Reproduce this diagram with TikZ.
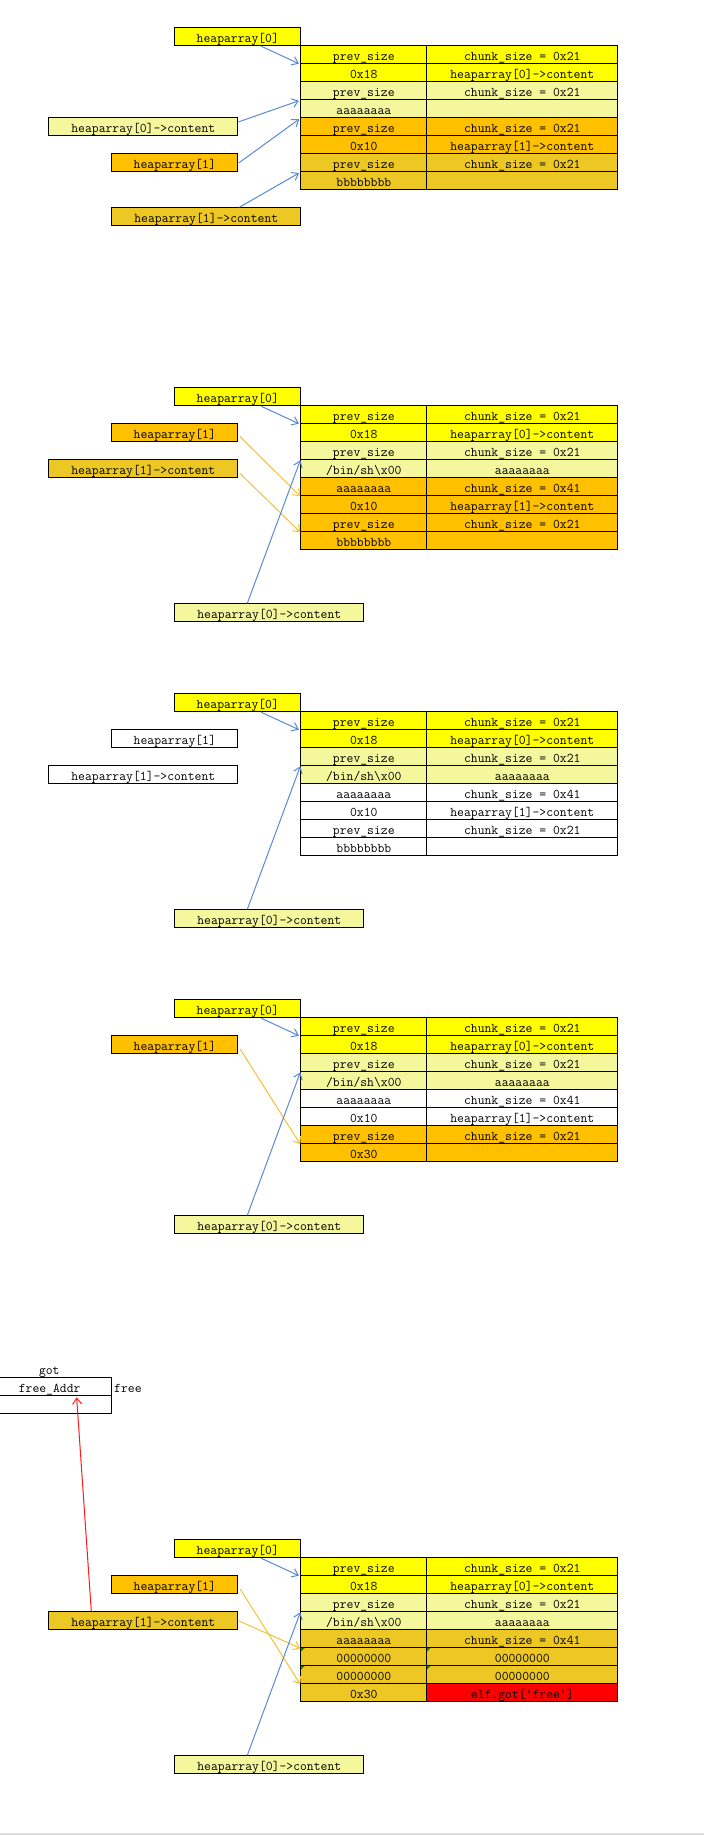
\documentclass[tikz,border=0pt]{standalone}
\usepackage{fontspec}
\usetikzlibrary{arrows.meta}
\definecolor{cY}{HTML}{FFFF00}
\definecolor{cL}{HTML}{F5F79D}
\definecolor{cO}{HTML}{FFC000}
\definecolor{cG}{HTML}{EDC825}
\definecolor{cRed}{HTML}{FF0000}
\definecolor{arrB}{HTML}{5A8AD6}
\definecolor{arrO}{HTML}{F7C136}
\definecolor{arrR}{HTML}{FF1A1A}
\definecolor{cGreen}{HTML}{1E7A1E}
\definecolor{barGrey}{HTML}{DDDDDD}
\newcommand\chunkrow[7]{%
  \node[box,fill=#4,minimum width=126pt] (#1r#2a) at (300.3,{#3+18*(#2-1)}) {#6};
  \node[box,fill=#5,minimum width=191pt] (#1r#2b) at (426.3,{#3+18*(#2-1)}) {#7};}
\begin{document}
\begin{tikzpicture}[x=1pt,y=-1pt,
  every node/.style={font=\fontsize{13.3}{15}\selectfont\ttfamily},
  box/.style={draw=black,line width=1pt,rectangle,inner sep=0pt,minimum height=18pt,
    text height=12pt,text depth=1pt,anchor=north west},
  barrow/.style={draw=arrB,line width=1pt,-{Straight Barb[length=6pt,width=9pt]}},
  oarrow/.style={draw=arrO,line width=1pt,-{Straight Barb[length=6pt,width=9pt]}},
  rarrow/.style={draw=arrR,line width=1pt,-{Straight Barb[length=6pt,width=9pt]}}]
\useasboundingbox (0,0) rectangle (704,1835);
\fill[white] (0,0) rectangle (704,1835);

% ---------------- Panel 1 ----------------
\chunkrow{p1}{1}{45.3}{cY}{cY}{prev\_size}{chunk\_size = 0x21}
\chunkrow{p1}{2}{45.3}{cY}{cY}{0x18}{heaparray[0]->content}
\chunkrow{p1}{3}{45.3}{cL}{cL}{prev\_size}{chunk\_size = 0x21}
\chunkrow{p1}{4}{45.3}{cL}{cL}{aaaaaaaa}{}
\chunkrow{p1}{5}{45.3}{cO}{cO}{prev\_size}{chunk\_size = 0x21}
\chunkrow{p1}{6}{45.3}{cO}{cO}{0x10}{heaparray[1]->content}
\chunkrow{p1}{7}{45.3}{cG}{cG}{prev\_size}{chunk\_size = 0x21}
\chunkrow{p1}{8}{45.3}{cG}{cG}{bbbbbbbb}{}
\node[box,fill=cY,minimum width=126pt] (p1h0) at (174.3,27.3) {heaparray[0]};
\node[box,fill=cL,minimum width=189pt] (p1hc0) at (48.3,117.3) {heaparray[0]->content};
\node[box,fill=cO,minimum width=126pt] (p1h1) at (111.3,153.3) {heaparray[1]};
\node[box,fill=cG,minimum width=189pt] (p1hc1) at (111.3,207.3) {heaparray[1]->content};
\draw[barrow,shorten >=1.5pt] ([xshift=-40pt]p1h0.south east) -- (p1r1a.south west);
\draw[barrow,shorten >=1.5pt] ([yshift=-4.7pt]p1hc0.north east) -- (p1r3a.south west);
\draw[barrow,shorten >=1.5pt] ([xshift=0.7pt]p1h1.east) -- (p1r4a.south west);
\draw[barrow,shorten >=1.5pt] ([xshift=-62pt]p1hc1.north east) -- (p1r7a.south west);

% ---------------- Panel 2 ----------------
\chunkrow{p2}{1}{405.3}{cY}{cY}{prev\_size}{chunk\_size = 0x21}
\chunkrow{p2}{2}{405.3}{cY}{cY}{0x18}{heaparray[0]->content}
\chunkrow{p2}{3}{405.3}{cL}{cL}{prev\_size}{chunk\_size = 0x21}
\chunkrow{p2}{4}{405.3}{cL}{cL}{/bin/sh\textbackslash x00}{aaaaaaaa}
\chunkrow{p2}{5}{405.3}{cO}{cO}{aaaaaaaa}{chunk\_size = 0x41}
\chunkrow{p2}{6}{405.3}{cO}{cO}{0x10}{heaparray[1]->content}
\chunkrow{p2}{7}{405.3}{cO}{cO}{prev\_size}{chunk\_size = 0x21}
\chunkrow{p2}{8}{405.3}{cO}{cO}{bbbbbbbb}{}
\node[box,fill=cY,minimum width=126pt] (p2h0) at (174.3,387.3) {heaparray[0]};
\node[box,fill=cO,minimum width=126pt] (p2h1) at (111.3,423.3) {heaparray[1]};
\node[box,fill=cG,minimum width=189pt] (p2hc1) at (48.3,459.3) {heaparray[1]->content};
\node[box,fill=cL,minimum width=189pt] (p2hc0) at (174.3,603.3) {heaparray[0]->content};
\draw[barrow,shorten >=1.5pt] ([xshift=-40pt]p2h0.south east) -- (p2r1a.south west);
\draw[oarrow] ([xshift=1.5pt,yshift=-3.7pt]p2h1.east) -- (p2r5a.south west);
\draw[oarrow] ([xshift=1.5pt,yshift=-4.4pt]p2hc1.east) -- (p2r7a.south west);
\draw[barrow] ([xshift=73pt]p2hc0.north west) -- (p2r3a.south west);

% ---------------- Panel 3 ----------------
\chunkrow{p3}{1}{711.3}{cY}{cY}{prev\_size}{chunk\_size = 0x21}
\chunkrow{p3}{2}{711.3}{cY}{cY}{0x18}{heaparray[0]->content}
\chunkrow{p3}{3}{711.3}{cL}{cL}{prev\_size}{chunk\_size = 0x21}
\chunkrow{p3}{4}{711.3}{cL}{cL}{/bin/sh\textbackslash x00}{aaaaaaaa}
\chunkrow{p3}{5}{711.3}{white}{white}{aaaaaaaa}{chunk\_size = 0x41}
\chunkrow{p3}{6}{711.3}{white}{white}{0x10}{heaparray[1]->content}
\chunkrow{p3}{7}{711.3}{white}{white}{prev\_size}{chunk\_size = 0x21}
\chunkrow{p3}{8}{711.3}{white}{white}{bbbbbbbb}{}
\node[box,fill=cY,minimum width=126pt] (p3h0) at (174.3,693.3) {heaparray[0]};
\node[box,fill=white,minimum width=126pt] (p3h1) at (111.3,729.3) {heaparray[1]};
\node[box,fill=white,minimum width=189pt] (p3hc1) at (48.3,765.3) {heaparray[1]->content};
\node[box,fill=cL,minimum width=189pt] (p3hc0) at (174.3,909.3) {heaparray[0]->content};
\draw[barrow,shorten >=1.5pt] ([xshift=-40pt]p3h0.south east) -- (p3r1a.south west);
\draw[barrow] ([xshift=73pt]p3hc0.north west) -- (p3r3a.south west);

% ---------------- Panel 4 ----------------
\chunkrow{p4}{1}{1017.3}{cY}{cY}{prev\_size}{chunk\_size = 0x21}
\chunkrow{p4}{2}{1017.3}{cY}{cY}{0x18}{heaparray[0]->content}
\chunkrow{p4}{3}{1017.3}{cL}{cL}{prev\_size}{chunk\_size = 0x21}
\chunkrow{p4}{4}{1017.3}{cL}{cL}{/bin/sh\textbackslash x00}{aaaaaaaa}
\chunkrow{p4}{5}{1017.3}{white}{white}{aaaaaaaa}{chunk\_size = 0x41}
\chunkrow{p4}{6}{1017.3}{white}{white}{0x10}{heaparray[1]->content}
\chunkrow{p4}{7}{1017.3}{cO}{cO}{prev\_size}{chunk\_size = 0x21}
\chunkrow{p4}{8}{1017.3}{cO}{cO}{0x30}{}
\node[box,fill=cY,minimum width=126pt] (p4h0) at (174.3,999.3) {heaparray[0]};
\node[box,fill=cO,minimum width=126pt] (p4h1) at (111.3,1035.3) {heaparray[1]};
\node[box,fill=cL,minimum width=189pt] (p4hc0) at (174.3,1215.3) {heaparray[0]->content};
\draw[barrow,shorten >=1.5pt] ([xshift=-40pt]p4h0.south east) -- (p4r1a.south west);
\draw[oarrow] ([xshift=2pt,yshift=-4.4pt]p4h1.east) -- (p4r7a.south west);
\draw[barrow] ([xshift=73pt]p4hc0.north west) -- (p4r3a.south west);

% ---------------- Panel 5 ----------------
\node[anchor=base,inner sep=0pt] (gotlbl) at (49.3,1374) {got};
\node[box,fill=white,minimum width=124.3pt] (fa) at (-13,1377.3) {free\_Addr};
\node[box,fill=white,minimum width=124.3pt] (fb) at (-13,1395.3) {};
\node[anchor=base west,inner sep=0pt] (freelbl) at (114,1392.7) {free};

\chunkrow{p5}{1}{1557.3}{cY}{cY}{prev\_size}{chunk\_size = 0x21}
\chunkrow{p5}{2}{1557.3}{cY}{cY}{0x18}{heaparray[0]->content}
\chunkrow{p5}{3}{1557.3}{cL}{cL}{prev\_size}{chunk\_size = 0x21}
\chunkrow{p5}{4}{1557.3}{cL}{cL}{/bin/sh\textbackslash x00}{aaaaaaaa}
\chunkrow{p5}{5}{1557.3}{cG}{cG}{aaaaaaaa}{chunk\_size = 0x41}
\chunkrow{p5}{6}{1557.3}{cG}{cG}{00000000}{00000000}
\chunkrow{p5}{7}{1557.3}{cG}{cG}{00000000}{00000000}
\chunkrow{p5}{8}{1557.3}{cG}{cRed}{0x30}{elf.got[\textquotesingle free\textquotesingle]}
\foreach \c in {p5r6a,p5r6b,p5r7a,p5r7b}
  \fill[cGreen] ([xshift=0.5pt,yshift=-0.5pt]\c.north west) -- ++(4,0) -- ++(-4,4) -- cycle;
\node[box,fill=cY,minimum width=126pt] (p5h0) at (174.3,1539.3) {heaparray[0]};
\node[box,fill=cO,minimum width=126pt] (p5h1) at (111.3,1575.3) {heaparray[1]};
\node[box,fill=cG,minimum width=189pt] (p5hc1) at (48.3,1611.3) {heaparray[1]->content};
\node[box,fill=cL,minimum width=189pt] (p5hc0) at (174.3,1755.3) {heaparray[0]->content};
\draw[barrow,shorten >=1.5pt] ([xshift=-40pt]p5h0.south east) -- (p5r1a.south west);
\draw[oarrow] ([xshift=2pt,yshift=-4.4pt]p5h1.east) -- (p5r7a.south west);
\draw[oarrow] ([xshift=0.5pt]p5hc1.east) -- (p5r5a.south west);
\draw[barrow] ([xshift=73pt]p5hc0.north west) -- (p5r3a.south west);
\draw[rarrow] ([xshift=43pt]p5hc1.north west) -- ([xshift=27pt,yshift=-2pt]fb.north);

% bottom grey strip
\fill[barGrey] (0,1832.7) rectangle (704,1835);
\end{tikzpicture}
\end{document}
